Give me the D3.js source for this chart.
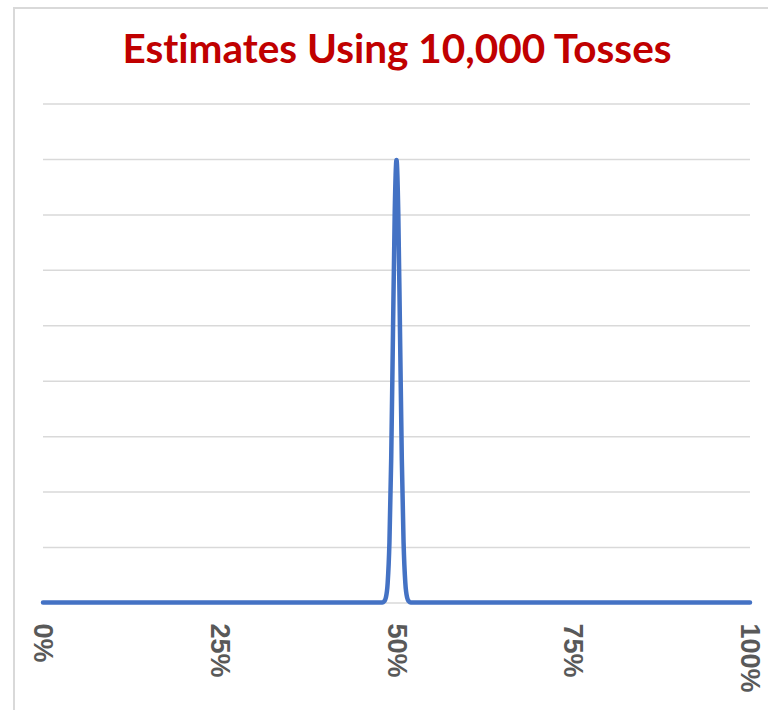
<!DOCTYPE html>
<html>
<head>
<meta charset="utf-8">
<script src="https://cdn.jsdelivr.net/npm/d3@7"></script>
<style>
  html, body { margin: 0; padding: 0; background: #fff; }
  svg { display: block; }
  .title { font-variant-ligatures: none; font-feature-settings: "liga" 0; }
</style>
</head>
<body>
<svg id="chart" width="768" height="710"></svg>
<script>
// Share of heads (%) and the estimated density at each point
const shareHeads = [0, 47.5, 48, 48.25, 48.5, 48.75, 49, 49.25, 49.5, 49.75, 50,
                    50.25, 50.5, 50.75, 51, 51.25, 51.5, 51.75, 52, 52.5, 100];
const density    = [0, 0, 0, 0.2, 0.9, 3.5, 10.8, 25.9, 48.4, 70.4, 79.8,
                    70.4, 48.4, 25.9, 10.8, 3.5, 0.9, 0.2, 0, 0, 0];
const xTicks = [0, 25, 50, 75, 100];
const yTicks = [0, 10, 20, 30, 40, 50, 60, 70, 80, 90];
const titleText = "Estimates Using 10,000 Tosses";

const svg = d3.select("#chart");
const W = 768, H = 710;
const plot = { left: 43, right: 750, top: 103.5, bottom: 602.5 };

// Chart-area frame (continues past the right and bottom edges)
svg.append("path")
  .attr("d", `M14,${H + 5} L14,8 L${W + 5},8`)
  .attr("fill", "none")
  .attr("stroke", "#d9d9d9")
  .attr("stroke-width", 2);

svg.append("text")
  .attr("class", "title")
  .attr("x", 397)
  .attr("y", 63)
  .attr("text-anchor", "middle")
  .attr("font-family", "Lato, 'Open Sans', sans-serif")
  .attr("font-weight", "bold")
  .attr("font-size", 40.5)
  .attr("fill", "#C00000")
  .text(titleText);

const x = d3.scaleLinear().domain([0, 100]).range([plot.left, plot.right]);
const y = d3.scaleLinear().domain([0, 90]).range([plot.bottom, plot.top]);

// Horizontal gridlines
const grid = svg.append("g")
  .attr("transform", `translate(${plot.left},0)`)
  .call(d3.axisLeft(y).tickValues(yTicks).tickSize(-(plot.right - plot.left)).tickFormat(""));
grid.select(".domain").remove();
grid.selectAll(".tick line").attr("stroke", "#d9d9d9").attr("stroke-width", 1.5);

// X axis with rotated percentage labels
const xAxis = svg.append("g")
  .attr("transform", `translate(0,${plot.bottom})`)
  .call(d3.axisBottom(x).tickValues(xTicks).tickSize(0).tickFormat(d => d + "%"));
xAxis.select(".domain").remove();
xAxis.selectAll(".tick text")
  .attr("font-family", "'Liberation Sans', Arial, sans-serif")
  .attr("font-weight", "bold")
  .attr("font-size", 27)
  .attr("fill", "#595959")
  .attr("text-anchor", "start")
  .attr("dy", "0.35em")
  .attr("transform", "translate(0,21) rotate(90)")
  .attr("x", 0)
  .attr("y", 0);

const line = d3.line()
  .x((d, i) => x(shareHeads[i]))
  .y(d => y(d))
  .curve(d3.curveMonotoneX);

svg.append("path")
  .datum(density)
  .attr("d", line)
  .attr("fill", "none")
  .attr("stroke", "#4472C4")
  .attr("stroke-width", 4.5)
  .attr("stroke-linejoin", "round")
  .attr("stroke-linecap", "round");
</script>
</body>
</html>
